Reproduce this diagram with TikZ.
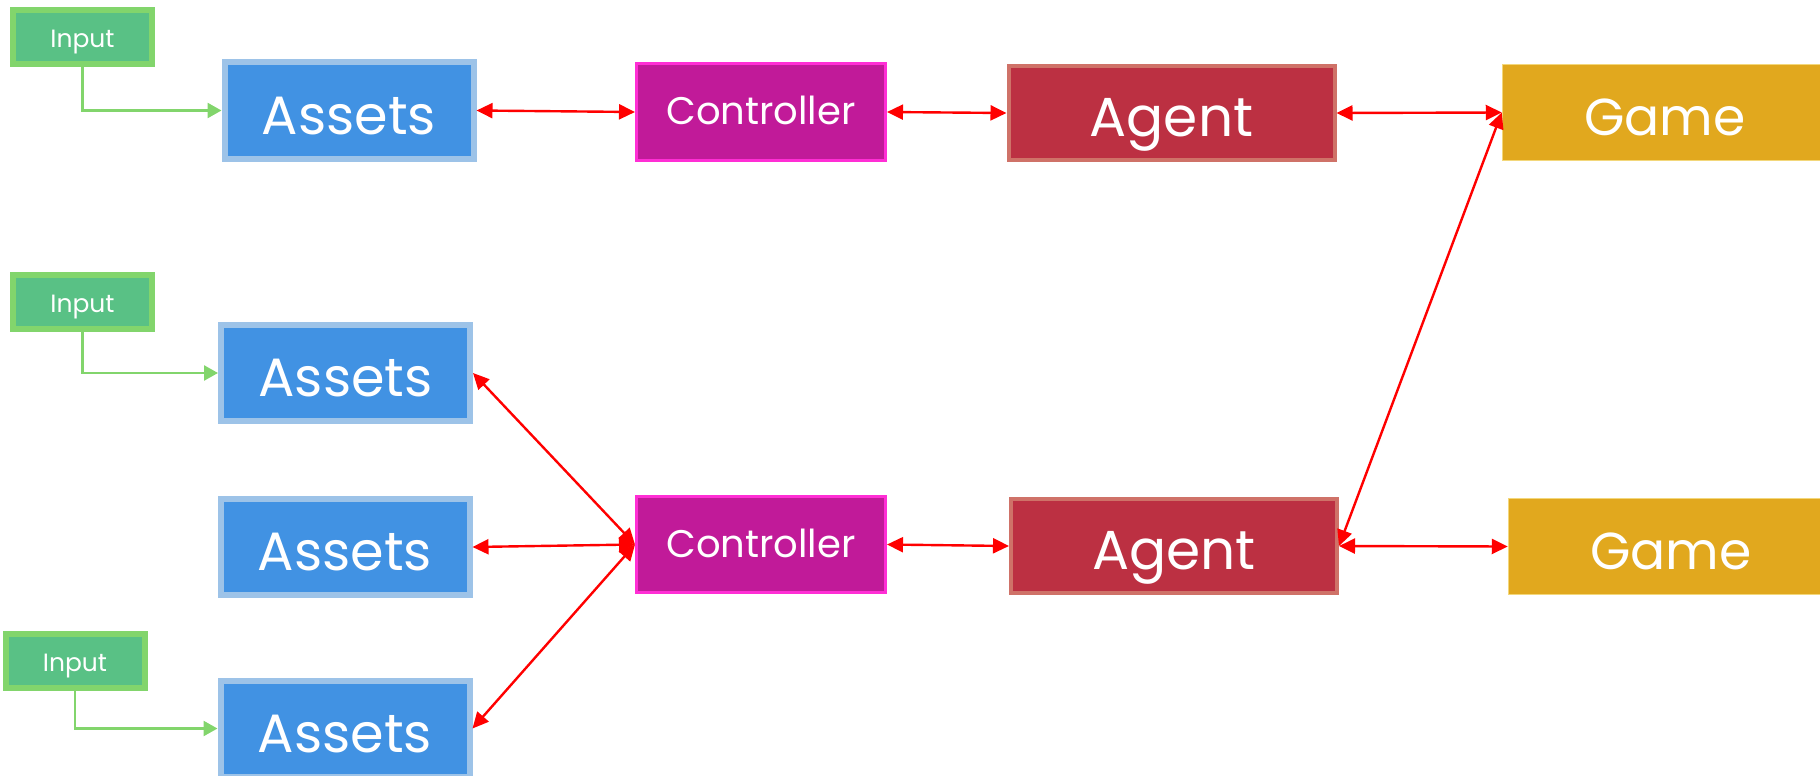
\documentclass[tikz,border=0pt]{standalone}
\usepackage{fontspec}
\setmainfont{Poppins}
\usetikzlibrary{arrows.meta}
\definecolor{inpfill}{HTML}{59C185}
\definecolor{inpline}{HTML}{82D56C}
\definecolor{assfill}{HTML}{4192E3}
\definecolor{assline}{HTML}{9DC3E8}
\definecolor{ctlfill}{HTML}{C11A99}
\definecolor{ctlline}{HTML}{FF2ED5}
\definecolor{agtfill}{HTML}{BC3042}
\definecolor{agtline}{HTML}{CF7268}
\definecolor{gamfill}{HTML}{E1A81E}
\definecolor{gamline}{HTML}{F3D77A}
\definecolor{arrred}{HTML}{FF0000}
\tikzset{
  txt/.style={text=white, text depth=0pt, inner sep=0pt},
  inpbox/.style={txt, text height=21pt, draw=inpline, fill=inpfill, line width=6pt, minimum width=139pt, minimum height=54pt, font=\fontsize{25}{25}\selectfont},
  assbox/.style={txt, text height=47pt, draw=assline, fill=assfill, line width=6pt, minimum width=249pt, minimum height=96pt, font=\fontsize{54}{54}\selectfont},
  ctlbox/.style={txt, text height=25pt, draw=ctlline, fill=ctlfill, line width=3pt, minimum width=249pt, minimum height=96pt, font=\fontsize{38.5}{38.5}\selectfont},
  agtbox/.style={txt, text height=47pt, draw=agtline, fill=agtfill, line width=4pt, minimum width=326pt, minimum height=94pt, font=\fontsize{55}{55}\selectfont},
  gambox/.style={txt, text height=45pt, draw=gamline, fill=gamfill, line width=1.5pt, minimum width=325pt, minimum height=96pt, font=\fontsize{52}{52}\selectfont},
  biarrow/.style={draw=arrred, line width=2.4pt, {Triangle[length=16pt,width=15pt]}-{Triangle[length=16pt,width=15pt]}},
  feed/.style={draw=inpline, line width=2.5pt, -{Triangle[length=14pt,width=15pt]}}
}
\begin{document}
\begin{tikzpicture}[x=1pt,y=-1pt]
\useasboundingbox (0,0) rectangle (1820,776);
% top row
\node[inpbox] (i1) at (82.5,37) {Input};
\node[assbox] (a1) at (349,110.5) {Assets};
\node[ctlbox] (c1) at (761,112) {Controller};
\node[agtbox] (g1) at (1171.5,113) {Agent};
\node[gambox] (m1) at (1665,112.5) {Game};
% lower group
\node[inpbox] (i2) at (82.5,302) {Input};
\node[assbox] (a2) at (345.5,373) {Assets};
\node[assbox] (a3) at (345,547) {Assets};
\node[inpbox] (i3) at (75,660.5) {Input};
\node[assbox] (a4) at (345,728.5) {Assets};
\node[ctlbox] (c2) at (761,544.5) {Controller};
\node[agtbox] (g2) at (1174,546) {Agent};
\node[gambox] (m2) at (1671,546.5) {Game};
% feeds
\draw[feed] (i1.south) |- (a1.west);
\draw[feed] (i2.south) |- (a2.west);
\draw[feed] (i3.south) |- (a4.west);
% top row links
\draw[biarrow] (a1.east) -- (c1.west);
\draw[biarrow] (c1.east) -- (g1.west);
\draw[biarrow] (g1.east) -- (m1.west);
\draw[biarrow] (m1.west) -- (g2.east);
% lower links
\draw[biarrow] (a2.east) -- (c2.west);
\draw[biarrow] (a3.east) -- (c2.west);
\draw[biarrow] (a4.east) -- (c2.west);
\draw[biarrow] (c2.east) -- (g2.west);
\draw[biarrow] (g2.east) -- (m2.west);
\end{tikzpicture}
\end{document}
